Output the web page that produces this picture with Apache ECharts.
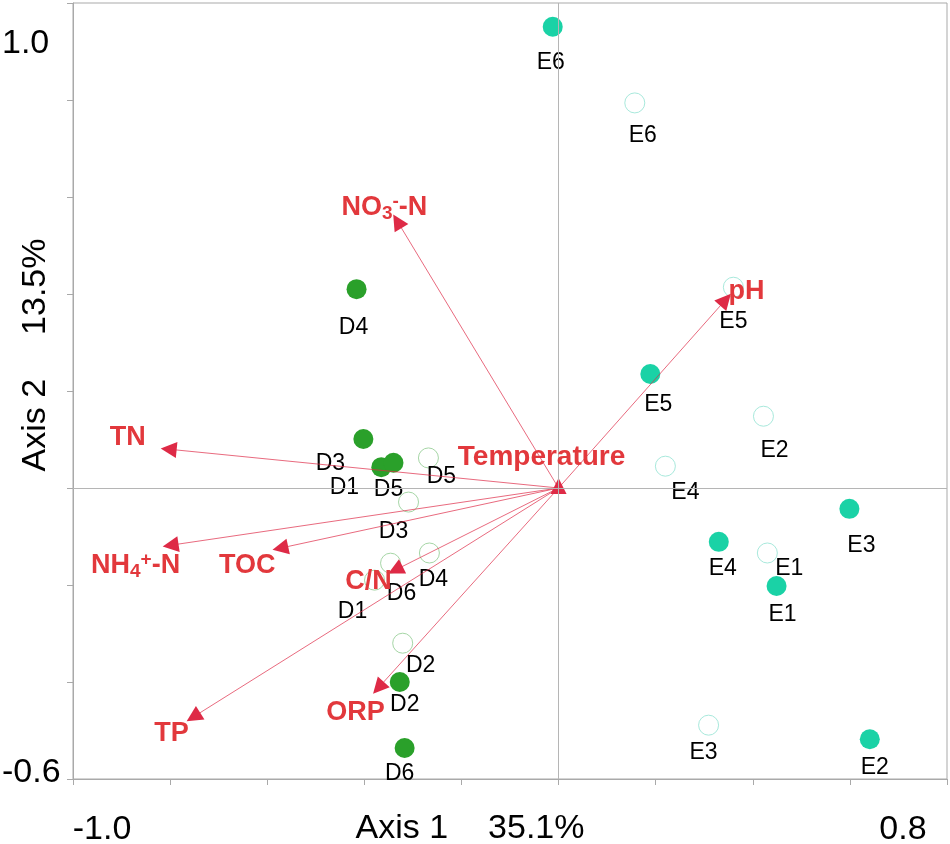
<!DOCTYPE html>
<html>
<head>
<meta charset="utf-8">
<script src="https://cdn.jsdelivr.net/npm/echarts@6/dist/echarts.min.js"></script>
<style>
  html, body { margin: 0; padding: 0; background: #fff; }
  #chart { width: 950px; height: 844px; }
</style>
</head>
<body>
<div id="chart"></div>
<script>
// sample scores (Axis 1, Axis 2)
const siteNamesE = ["E1", "E2", "E3", "E4", "E5", "E6"];
const siteNamesD = ["D1", "D2", "D3", "D4", "D5", "D6"];

const eFilledAxis1 = [0.449, 0.641, 0.599, 0.33, 0.189, -0.012];
const eFilledAxis2 = [-0.202, -0.518, -0.043, -0.111, 0.235, 0.951];
const eOpenAxis1 = [0.43, 0.422, 0.309, 0.22, 0.36, 0.157];
const eOpenAxis2 = [-0.134, 0.148, -0.489, 0.045, 0.414, 0.794];

const dFilledAxis1 = [-0.365, -0.327, -0.402, -0.416, -0.34, -0.317];
const dFilledAxis2 = [0.043, -0.4, 0.101, 0.41, 0.052, -0.536];
const dOpenAxis1 = [-0.379, -0.321, -0.309, -0.266, -0.268, -0.346];
const dOpenAxis2 = [-0.19, -0.32, -0.029, -0.134, 0.062, -0.155];

// environmental vectors
const envNames = ["NO3-N", "pH", "TN", "NH4-N", "TOC", "C/N", "TP", "ORP", "Temperature"];
const envAxis1 = [-0.332, 0.344, -0.803, -0.799, -0.573, -0.336, -0.752, -0.371, 0.0];
const envAxis2 = [0.55, 0.388, 0.08, -0.118, -0.124, -0.169, -0.472, -0.412, 0.004];

const axisTitles = ["Axis 1", "35.1%", "Axis 2", "13.5%"];

// label placement (pixels from the point), layout only
const labelShift = {
  eFilled: [[6, 29], [5, 28], [12, 37], [4, 27], [8, 31], [-2, 36]],
  eOpen: [[22, 16], [11, 34], [-5, 27], [20, 26], [0, 34], [8, 33]],
  dFilled: [[-37, 21], [5, 23], [-33, 25], [-3, 39], [-5, 27], [-5, 26]],
  dOpen: [[-22, 32], [18, 22], [-15, 30], [4, 27], [13, 19], [11, 30]],
  env: [[-13, -14], [21, -8], [-41, -12], [-35, 20], [-33, 17], [-27, 12], [-22, 17], [-23, 25], [-17, -29]],
};

const FONT = "Liberation Sans, Arial, sans-serif";
const RED = "#e2383c";

function sitePoints(names, a1, a2, shifts) {
  let out = [];
  for (let i = 0; i < names.length; i++) {
    out.push({
      name: names[i],
      value: [a1[i], a2[i]],
      label: { offset: shifts[i] },
    });
  }
  return out;
}

function envLabel(name) {
  if (name == "NO3-N") return "{m|NO}{s|3}{p|-}{m|-N}";
  if (name == "NH4-N") return "{m|NH}{s|4}{p|+}{m|-N}";
  if (name == "Temperature") return "{w|" + name + "}";
  return "{m|" + name + "}";
}

const siteLabel = {
  show: true,
  position: "inside",
  formatter: "{b}",
  color: "#000",
  opacity: 1,
  fontSize: 23,
  fontFamily: FONT,
};

function siteSeries(names, a1, a2, shifts, filled, color, ring) {
  return {
    type: "scatter",
    symbol: "circle",
    symbolSize: 20,
    silent: true,
    z: 3,
    itemStyle: filled
      ? { color: color, opacity: 1 }
      : { color: "rgba(255,255,255,0)", borderColor: ring, borderWidth: 1, opacity: 1 },
    label: siteLabel,
    data: sitePoints(names, a1, a2, shifts),
  };
}

let dom = document.getElementById("chart");
let myChart = echarts.init(dom, null, { renderer: "canvas" });

let option = {
  animation: false,
  backgroundColor: "#fff",
  grid: {
    left: 73,
    right: 3,
    top: 3,
    bottom: 65,
    containLabel: false,
    outerBoundsMode: "none",
    show: true,
    borderColor: "#a9a9a9",
    borderWidth: 1,
  },
  xAxis: {
    type: "value",
    min: -1,
    max: 0.8,
    interval: 0.2,
    name: "{a|" + axisTitles[0] + "}{b|" + axisTitles[1] + "}",
    nameLocation: "middle",
    nameGap: 33,
    nameMoveOverlap: false,
    nameTextStyle: {
      padding: [0, 80, 0, 0],
      rich: {
        a: { fontSize: 34, fontFamily: FONT, color: "#000" },
        b: { fontSize: 34, fontFamily: FONT, color: "#000", padding: [0, 0, 0, 40] },
      },
    },
    axisLine: { show: true, onZero: false, lineStyle: { color: "#a9a9a9", width: 1 } },
    axisTick: { show: true, inside: false, length: 6, lineStyle: { color: "#a9a9a9" } },
    splitLine: { show: false },
    axisLabel: {
      margin: 34,
      formatter: function (v) {
        if (Math.abs(v + 1) < 1e-9) return "{l|-1.0}";
        if (Math.abs(v - 0.8) < 1e-9) return "{r|0.8}";
        return "";
      },
      rich: {
        l: { fontSize: 34, fontFamily: FONT, color: "#000", padding: [0, 0, 0, 58] },
        r: { fontSize: 34, fontFamily: FONT, color: "#000", padding: [0, 88, 0, 0] },
      },
    },
  },
  yAxis: {
    type: "value",
    min: -0.6,
    max: 1.0,
    interval: 0.2,
    name: "{a|" + axisTitles[2] + "}{b|" + axisTitles[3] + "}",
    nameLocation: "middle",
    nameRotate: 90,
    nameGap: 20,
    nameMoveOverlap: false,
    nameTextStyle: {
      padding: [0, 0, 0, 72],
      rich: {
        a: { fontSize: 34, fontFamily: FONT, color: "#000" },
        b: { fontSize: 34, fontFamily: FONT, color: "#000", padding: [0, 0, 0, 44] },
      },
    },
    axisLine: { show: true, onZero: false, lineStyle: { color: "#a9a9a9", width: 1 } },
    axisTick: { show: true, inside: false, length: 6, lineStyle: { color: "#a9a9a9" } },
    splitLine: { show: false },
    axisLabel: {
      align: "left",
      margin: 71,
      formatter: function (v) {
        if (Math.abs(v - 1) < 1e-9) return "{t|1.0}";
        if (Math.abs(v + 0.6) < 1e-9) return "{b|-0.6}";
        return "";
      },
      rich: {
        t: { fontSize: 34, fontFamily: FONT, color: "#000", padding: [82, 0, 0, 0] },
        b: { fontSize: 34, fontFamily: FONT, color: "#000", padding: [0, 0, 12, 0] },
      },
    },
  },
  series: [
    {
      // zero lines
      type: "scatter",
      data: [],
      silent: true,
      markLine: {
        silent: true,
        symbol: "none",
        label: { show: false },
        lineStyle: { color: "#b5b5b5", type: "solid", width: 1 },
        data: [{ xAxis: 0 }, { yAxis: 0 }],
      },
    },
    siteSeries(siteNamesE, eOpenAxis1, eOpenAxis2, labelShift.eOpen, false, null, "#a8e9dc"),
    siteSeries(siteNamesE, eFilledAxis1, eFilledAxis2, labelShift.eFilled, true, "#1ad2a6", null),
    siteSeries(siteNamesD, dOpenAxis1, dOpenAxis2, labelShift.dOpen, false, null, "#a6d6a6"),
    siteSeries(siteNamesD, dFilledAxis1, dFilledAxis2, labelShift.dFilled, true, "#2aa02a", null),
    {
      type: "lines",
      coordinateSystem: "cartesian2d",
      silent: true,
      z: 4,
      symbol: ["none", "triangle"],
      symbolSize: [11, 16],
      symbolOffset: [0, [0, 8]],
      lineStyle: { color: "#de2a46", width: 0.7, opacity: 1 },
      data: envNames.map((n, i) => ({ coords: [[0, 0], [envAxis1[i], envAxis2[i]]] })),
    },
    {
      type: "scatter",
      silent: true,
      z: 5,
      symbolSize: 0.1,
      itemStyle: { color: "rgba(0,0,0,0)", opacity: 1 },
      label: {
        show: true,
        position: "inside",
        opacity: 1,
        formatter: (p) => envLabel(p.name),
        rich: {
          m: { fontSize: 27, fontWeight: "bold", fontFamily: FONT, color: RED, lineHeight: 30 },
          w: { fontSize: 28, fontWeight: "bold", fontFamily: FONT, color: RED, lineHeight: 30 },
          s: { fontSize: 19, fontWeight: "bold", fontFamily: FONT, color: RED, lineHeight: 30, padding: [13, 0, 0, 0] },
          p: { fontSize: 19, fontWeight: "bold", fontFamily: FONT, color: RED, lineHeight: 20, verticalAlign: "top" },
        },
      },
      data: envNames.map((n, i) => ({
        name: n,
        value: [envAxis1[i], envAxis2[i]],
        label: { offset: labelShift.env[i] },
      })),
    },
  ],
};

myChart.setOption(option);
window.addEventListener("resize", myChart.resize);
</script>
</body>
</html>
